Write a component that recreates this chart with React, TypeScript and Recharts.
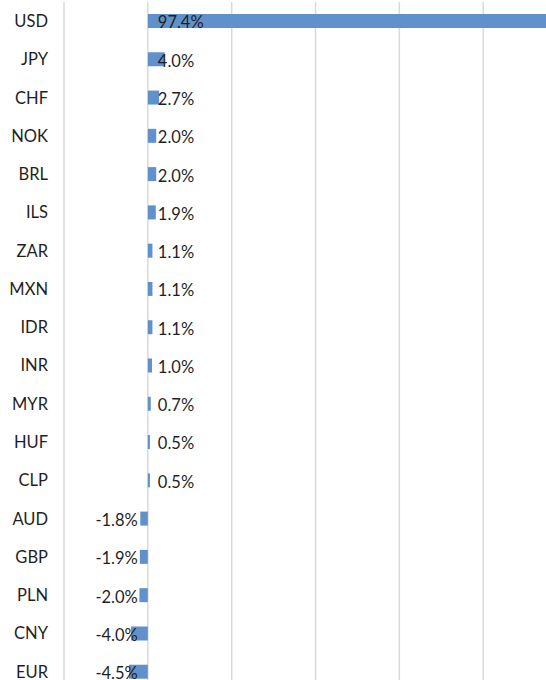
import { Bar, BarChart, CartesianGrid, LabelList, XAxis, YAxis } from "recharts";

const currencies = [
  "USD", "JPY", "CHF", "NOK", "BRL", "ILS", "ZAR", "MXN", "IDR",
  "INR", "MYR", "HUF", "CLP", "AUD", "GBP", "PLN", "CNY", "EUR",
];
const changes = [
  97.4, 4.0, 2.7, 2.0, 2.0, 1.9, 1.1, 1.1, 1.1,
  1.0, 0.7, 0.5, 0.5, -1.8, -1.9, -2.0, -4.0, -4.5,
];
const xTicks = [-20, 0, 20, 40, 60, 80, 100];

const data = currencies.map((c, i) => ({ currency: c, change: changes[i] }));

const font = "Lato, 'Open Sans', sans-serif";

// label sits just off the zero line, on the side the bar grows to
const ValueLabel = (props: any) => {
  const { x, y, width, height, value } = props;
  const v = Number(value);
  const base = v >= 0 ? Math.min(x, x + width) : Math.max(x, x + width);
  const tx = v >= 0 ? base + 10 : base - 10;
  return (
    <text
      x={tx}
      y={y + height / 2}
      dy="0.45em"
      textAnchor={v >= 0 ? "start" : "end"}
      fill="#1f1f1f"
      fontSize={16.5}
      fontFamily={font}
    >
      {v.toFixed(1)}%
    </text>
  );
};

export default function App() {
  return (
    <div
      style={{
        position: "fixed",
        left: 0,
        top: 0,
        width: 546,
        height: 680,
        overflow: "hidden",
        background: "#fff",
      }}
    >
      <BarChart
        width={580}
        height={701}
        data={data}
        layout="vertical"
        margin={{ top: 2, right: 13, left: 0, bottom: 10 }}
      >
        <CartesianGrid horizontal={false} stroke="#d9d9d9" strokeWidth={1.5} />
        <XAxis
          type="number"
          domain={[-20, 100]}
          ticks={xTicks}
          hide
        />
        <YAxis
          type="category"
          dataKey="currency"
          width={64}
          axisLine={false}
          tickLine={false}
          tickSize={0}
          tickMargin={16}
          tick={{ fill: "#1f1f1f", fontSize: 16.5, fontFamily: font }}
          interval={0}
        />
        <Bar dataKey="change" fill="#6191cb" barSize={14} isAnimationActive={false}>
          <LabelList dataKey="change" content={ValueLabel} />
        </Bar>
      </BarChart>
    </div>
  );
}
